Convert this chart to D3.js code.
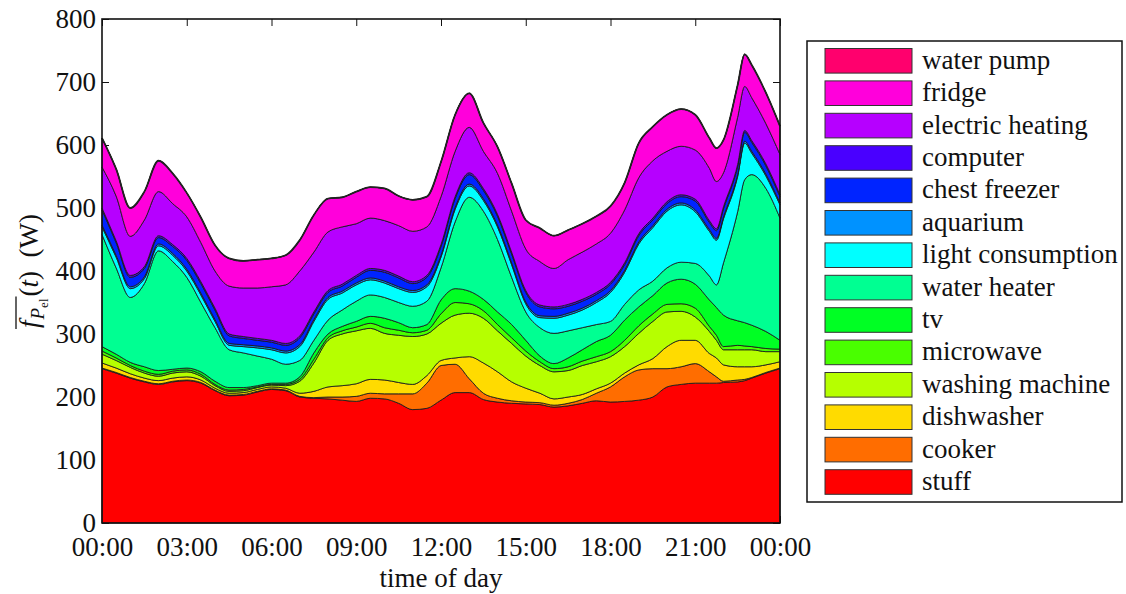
<!DOCTYPE html>
<html><head><meta charset="utf-8">
<script src="https://cdn.jsdelivr.net/npm/d3@7"></script>
<style>
body{margin:0;background:#fff}
svg{display:block}
text{font-family:"Liberation Serif","Times New Roman",serif;fill:#111}
</style>
</head><body>
<svg id="c" width="1126" height="594"></svg>
<script>
// ---- data (W) ----
const hours = [0,0.5,1,1.5,2,2.5,3,3.5,4,4.5,5,5.5,6,6.5,7,7.5,8,8.5,9,9.5,10,10.5,11,11.5,12,12.5,13,13.5,14,14.5,15,15.5,16,16.5,17,17.5,18,18.5,19,19.5,20,20.5,21,21.5,21.75,22,22.5,22.75,23,23.5,24];
const stuff = [245,238,230,224,220,224,226,222,210,202,203,208,212,210,200,198,197,195,193,198,197,190,180,182,195,207,207,196,192,190,189,188,184,186,190,194,192,193,195,200,216,220,222,222,222,223,224,226,230,238,245];
const cooker = [1,1,1,1,1,1,1,1,1,1,1,1,1,1,1,1,3,5,8,8,8,15,25,40,55,45,22,10,6,4,3,3,3,4,6,12,24,39,48,45,29,28,31,18,10,2,3,2,1,1,1];
const dishwasher = [8,7,6,5,5,5,5,4,3,3,3,3,3,3,5,10,16,18,20,22,22,18,15,12,8,10,35,48,42,30,22,15,10,10,8,7,6,6,8,16,35,42,37,29,30,26,21,20,17,12,10];
const washingMachine = [14,12,10,8,7,8,8,6,4,3,3,3,3,4,19,45,74,82,84,81,74,75,76,66,59,68,69,71,65,61,51,44,43,42,46,43,42,42,50,59,55,46,37,35,28,24,27,27,27,21,16];
const microwave = [5,4,3,3,3,3,3,3,2,2,2,1,1,2,3,6,4,5,6,8,9,8,6,6,15,20,15,12,10,9,8,6,5,6,7,8,8,10,12,12,12,12,14,8,8,5,7,6,5,5,4];
const tv = [7,6,5,7,6,3,3,4,5,4,3,2,2,2,4,10,6,7,9,11,15,12,8,9,22,22,20,18,20,21,17,9,8,14,18,24,26,32,30,29,34,39,38,42,44,50,39,37,34,27,14];
const waterHeater = [178,137,103,132,190,171,144,110,85,60,55,47,38,30,26,20,22,26,32,34,33,32,34,37,51,106,149,140,115,75,45,45,48,43,35,27,22,25,27,23,24,27,33,38,36,83,173,227,239,227,194];
const lightConsumption = [12,17,14,8,8,10,10,12,10,7,10,13,15,18,22,30,33,27,26,24,23,22,22,23,17,20,18,17,20,20,13,16,24,25,28,35,46,51,73,85,90,91,82,71,71,70,56,58,34,20,21];
const aquarium = [3,3,3,3,3,3,3,3,3,3,3,3,3,3,3,3,3,3,3,3,3,3,3,3,3,3,3,3,3,3,3,3,3,3,3,3,3,3,3,3,3,3,3,3,3,3,3,3,3,3,3];
const chestFreezer = [24,20,15,13,10,11,14,15,15,12,10,9,9,9,11,9,8,8,9,12,14,14,11,12,14,14,15,13,14,14,15,14,12,11,11,10,10,9,10,9,9,10,14,11,12,13,13,14,14,13,10];
const computer = [3,3,3,3,3,3,3,3,3,3,3,3,3,3,3,3,3,3,3,3,3,3,3,3,3,3,3,3,3,3,3,3,3,3,3,3,3,3,3,3,3,3,3,3,3,3,3,3,3,3,3];
const electricHeating = [65,71,62,74,70,65,66,62,59,76,77,80,85,93,103,95,93,91,82,80,79,80,80,77,76,72,72,59,65,65,66,69,61,71,75,77,78,84,89,91,80,77,78,83,75,54,75,70,68,64,64];
const fridge = [46,43,45,45,49,48,38,40,41,44,43,45,45,47,49,59,53,47,51,49,51,47,50,48,55,58,54,45,42,44,46,53,52,47,45,44,43,43,55,54,58,59,56,48,53,52,51,51,52,49,45];
const waterPump = [0,0,0,0,0,0,0,0,0,0,0,0,0,0,0,0,0,0,0,0,0,0,0,0,0,0,0,0,0,0,0,0,0,0,0,0,0,0,0,0,0,0,0,0,0,0,0,0,0,0,0];

// stacking order, bottom to top
const seriesNames = ["stuff","cooker","dishwasher","washing machine","microwave","tv","water heater","light consumption","aquarium","chest freezer","computer","electric heating","fridge","water pump"];
const seriesValues = [stuff,cooker,dishwasher,washingMachine,microwave,tv,waterHeater,lightConsumption,aquarium,chestFreezer,computer,electricHeating,fridge,waterPump];
const seriesColors = ["#ff0000","#ff6d00","#ffdb00","#b6ff00","#49ff00","#00ff24","#00ff92","#00ffff","#0092ff","#0024ff","#4900ff","#b600ff","#ff00db","#ff006d"];

const xTickHours = [0,3,6,9,12,15,18,21,24];
const xTickLabels = ["00:00","03:00","06:00","09:00","12:00","15:00","18:00","21:00","00:00"];
const yTickValues = [0,100,200,300,400,500,600,700,800];

// ---- layout ----
const L = 102, R = 780, T = 19, B = 523;
const svg = d3.select("#c");
const x = d3.scaleLinear().domain([0,24]).range([L,R]);
const y = d3.scaleLinear().domain([0,800]).range([B,T]);

const table = hours.map((h,i)=>{
  const o = {t:h};
  seriesNames.forEach((n,k)=>{ o[n] = seriesValues[k][i]; });
  return o;
});
const stacked = d3.stack().keys(seriesNames)(table);

// ticks (under the data)
const fs = 27;
const gx = svg.append("g").attr("transform",`translate(0,${B})`)
  .call(d3.axisBottom(x).tickValues(xTickHours).tickFormat((d,i)=>xTickLabels[i])
    .tickSizeInner(-7).tickSizeOuter(0).tickPadding(14));
const gy = svg.append("g").attr("transform",`translate(${L},0)`)
  .call(d3.axisLeft(y).tickValues(yTickValues).tickSizeInner(-7).tickSizeOuter(0).tickPadding(6));
const gt = svg.append("g").attr("transform",`translate(0,${T})`)
  .call(d3.axisTop(x).tickValues(xTickHours).tickFormat("").tickSizeInner(-7).tickSizeOuter(0));
const gr = svg.append("g").attr("transform",`translate(${R},0)`)
  .call(d3.axisRight(y).tickValues(yTickValues).tickFormat("").tickSizeInner(-7).tickSizeOuter(0));
[gx,gy,gt,gr].forEach(g=>{
  g.select(".domain").remove();
  g.selectAll(".tick line").attr("stroke","#111").attr("stroke-width",1);
  g.selectAll("text").attr("font-size",fs).attr("font-family","'Liberation Serif',serif").attr("fill","#111");
});

// areas
const area = d3.area().curve(d3.curveMonotoneX)
  .x(d=>x(d.data.t)).y0(d=>y(d[0])).y1(d=>y(d[1]));
svg.append("g").selectAll("path").data(stacked).join("path")
  .attr("d",area)
  .attr("fill",(d,i)=>seriesColors[i])
  .attr("stroke","#1a1a1a").attr("stroke-opacity",0.85).attr("stroke-width",1)
  .attr("stroke-linejoin","round");
// top outline
const topLine = d3.line().curve(d3.curveMonotoneX)
  .x(d=>x(d.data.t)).y(d=>y(d[1]));
svg.append("path").datum(stacked[stacked.length-1]).attr("d",topLine)
  .attr("fill","none").attr("stroke","#222").attr("stroke-width",1.8);

// frame
svg.append("rect").attr("x",L).attr("y",T).attr("width",R-L).attr("height",B-T)
  .attr("fill","none").attr("stroke","#111").attr("stroke-width",1.6);

// x label
svg.append("text").attr("x",(L+R)/2).attr("y",587).attr("text-anchor","middle")
  .attr("font-size",fs).text("time of day");

// y label: overline f_{P_el}(t) (W)
const yl = svg.append("g");
const ytxt = yl.append("text").attr("font-size",fs).attr("x",0).attr("y",0);
const tf = ytxt.append("tspan").attr("font-style","italic").text("f");
const tP = ytxt.append("tspan").attr("font-style","italic").attr("font-size",19).attr("dy",6).attr("dx",1).text("P");
const tel = ytxt.append("tspan").attr("font-size",13).attr("dy",4).text("el");
ytxt.append("tspan").attr("dy",-10).attr("dx",2).text("(");
ytxt.append("tspan").attr("font-style","italic").text("t");
ytxt.append("tspan").text(")\u00a0\u00a0(W)");
const lenOver = tf.node().getComputedTextLength() + tP.node().getComputedTextLength() + tel.node().getComputedTextLength() + 3;
const total = ytxt.node().getComputedTextLength() + 3;
yl.append("line").attr("x1",-1).attr("x2",lenOver).attr("y1",-22).attr("y2",-22)
  .attr("stroke","#111").attr("stroke-width",1.3);
yl.attr("transform",`translate(38,${(T+B)/2 + total/2}) rotate(-90)`);

// legend
const lg = svg.append("g");
lg.append("rect").attr("x",807).attr("y",41).attr("width",315).attr("height",461)
  .attr("fill","#fff").attr("stroke","#111").attr("stroke-width",1.5);
const legOrder = seriesNames.map((n,i)=>i).reverse();
legOrder.forEach((k,j)=>{
  const cy = 60.8 + j*32.4;
  lg.append("rect").attr("x",825).attr("y",cy-12.3).attr("width",87).attr("height",24.6)
    .attr("fill",seriesColors[k]).attr("stroke","#333").attr("stroke-width",1);
  lg.append("text").attr("x",922).attr("y",cy+8).attr("font-size",fs).text(seriesNames[k]);
});
</script>
</body></html>
